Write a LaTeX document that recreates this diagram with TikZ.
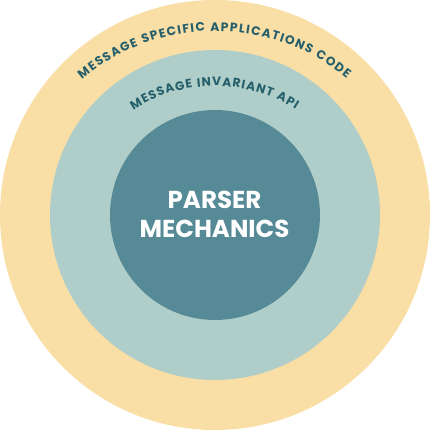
\documentclass[tikz,border=0pt]{standalone}
\usepackage{fontspec}
\newfontfamily\pop{Poppins}
\usetikzlibrary{decorations.text}
\definecolor{outerc}{HTML}{F9DEA5}
\definecolor{midc}{HTML}{B0CEC9}
\definecolor{innerc}{HTML}{568A97}
\definecolor{textc}{HTML}{245F6B}
\tikzset{
  ring/.style={circle, inner sep=0pt, minimum size=#1},
  arctext/.style={decorate, decoration={text along path, text color=textc, text align=fit to path, text={|\pop\bfseries\fontsize{12.3}{12.3}\selectfont|#1}}},
  coretext/.style={text=white, font=\pop\bfseries\fontsize{24.5}{24.5}\selectfont, anchor=base, inner sep=0pt}
}
\begin{document}
\begin{tikzpicture}[x=1pt,y=1pt]
\useasboundingbox (0,0) rectangle (430,430);
\node[ring=430pt, fill=outerc] (outer) at (215,215) {};
\node[ring=330pt, fill=midc] (middle) at (215,215) {};
\node[ring=210pt, fill=innerc] (inner) at (215,215) {};
\coordinate (oc) at (215,192);
\coordinate (mc) at (215,194);
\path[arctext={MESSAGE SPECIFIC APPLICATIONS CODE}] (oc) ++(130:207) arc[start angle=130, end angle=50.5, radius=207];
\path[arctext={MESSAGE INVARIANT API}] (mc) ++(123:150) arc[start angle=123, end angle=57.5, radius=150];
\node[coretext] (l1) at (214.5,221) {PARSER};
\node[coretext] (l2) at (214.5,192.5) {MECHANICS};
\end{tikzpicture}
\end{document}
